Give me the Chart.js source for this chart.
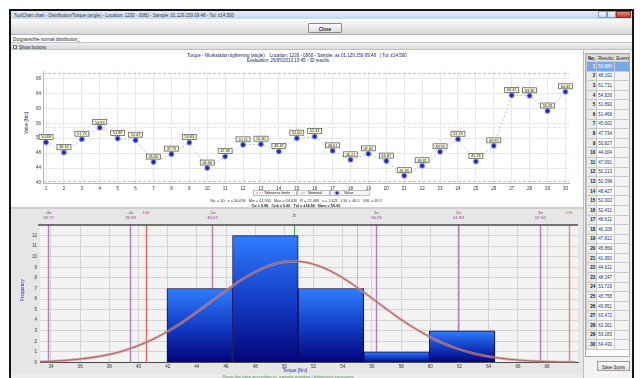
<!DOCTYPE html>
<html>
<head>
<meta charset="utf-8">
<title>Torque distribution</title>
<script src="https://cdn.jsdelivr.net/npm/chart.js@4.4.1/dist/chart.umd.min.js"></script>
<style>
  html, body { margin:0; padding:0; width:642px; height:378px; overflow:hidden; background:#fff;
               font-family:"Liberation Sans", Arial, sans-serif; }
  .abs { position:absolute; box-sizing:border-box; }
  .tiny { font-size:4.5px; line-height:5px; white-space:nowrap; }
  #frame { left:9px; top:9px; width:625px; height:380px; border:2px solid #151515; background:#efefef; }
  #titlebar { left:11px; top:11px; width:621px; height:8px; background:linear-gradient(#e2ecf8,#c3d7ee); }
  #titletext { left:14px; top:12.5px; color:#333; }
  .wbtn { top:11px; height:7px; border:1px solid #8a9bb3; background:linear-gradient(#f2f6fb,#cfdbea); }
  #toolbar { left:11px; top:19px; width:621px; height:16px; background:linear-gradient(#fbfbfb,#d9d9d9); border-bottom:1px solid #b3b3b3; }
  #closeBtn { left:308px; top:23px; width:34px; height:10px; border:1px solid #8a8a8a; border-radius:1px;
              background:linear-gradient(#fdfdfd,#dedede); text-align:center; font-weight:bold; padding-top:2.5px; color:#222; }
  #pathRow { left:11px; top:35px; width:621px; height:8px; background:#fff; border-bottom:1px solid #c6c6c6; }
  #pathText { left:13px; top:37px; color:#222; }
  #settingsRow { left:11px; top:43px; width:621px; height:7px; background:linear-gradient(#ededed,#dcdcdc); border-bottom:1px solid #c0c0c0; }
  #chk { left:13px; top:44.5px; width:4px; height:4px; border:1px solid #5a8a5a; background:#e6f4e6; }
  #chkText { left:19px; top:44.5px; color:#222; }
  #runPanel { left:11px; top:50px; width:572px; height:158px; background:#fff; }
  #sep { left:11px; top:207px; width:572px; height:2px; background:#cfcfcf; }
  #histPanel { left:11px; top:209px; width:572px; height:165px; background:#e6e6e6; }
  #status { left:11px; top:374px; width:621px; height:4px; background:#ececec; }
  #statusText { left:222px; top:374.5px; color:#3aa43a; }
  #sidePanel { left:583px; top:50px; width:49px; height:328px; background:#f2f2f2; border-left:1px solid #bdbdbd; }
  #tableBox { left:585px; top:53px; width:45px; height:304px; background:#fff; border:1px solid #a9a9a9; overflow:hidden; }
  #saveBtn { left:597px; top:361px; width:33px; height:10px; border:1px solid #9a9a9a; background:linear-gradient(#fafafa,#e0e0e0);
             text-align:center; padding-top:2.5px; color:#222; }
  table { border-collapse:collapse; font-size:4.5px; line-height:5px; }
  td { border:1px solid #c9c9c9; height:8.6px; padding:0 1px; white-space:nowrap; }
  td.no { width:6px; background:#e9e9e9; text-align:right; color:#111; font-weight:bold; }
  td.res { width:15px; color:#1a2a6a; }
  td.ev { width:13px; background:#f4f4f4; }
  tr.hdr td { background:#e1e1e1; color:#111; height:6px; }
  tr.sel td { background:#7aa6e4; color:#fff; }
  canvas { position:absolute; }
</style>
</head>
<body>
<div class="abs" id="frame"></div>
<div class="abs" id="titlebar"></div>
<div class="abs tiny" id="titletext">ToolChart chart - Distribution/Torque (angle) - Location: 1230 - 0060 - Sample: 01.129.159 09:48 - Tol: ±14.500</div>
<div class="abs wbtn" style="left:598px;width:9px;"></div>
<div class="abs wbtn" style="left:607px;width:9px;"></div>
<div class="abs wbtn" style="left:616px;width:15px;background:linear-gradient(#e58a80,#c43b2e);border-color:#8e2a20;"></div>
<div class="abs" id="toolbar"></div>
<div class="abs tiny" id="closeBtn">Close</div>
<div class="abs" id="pathRow"></div>
<div class="abs tiny" id="pathText">Do/gravis/the normal distribution_</div>
<div class="abs" id="settingsRow"></div>
<div class="abs" id="chk"></div>
<div class="abs tiny" id="chkText">Show buttons</div>
<div class="abs" id="runPanel"></div>
<div class="abs" id="sep"></div>
<div class="abs" id="histPanel"></div>
<div class="abs" id="status"></div>
<div class="abs tiny" id="statusText">Show the data according to: sample number / tightening sequence</div>
<div class="abs" id="sidePanel"></div>
<div class="abs" id="tableBox"><table id="resultTable"></table></div>
<div class="abs tiny" id="saveBtn">Save Sums</div>

<canvas id="runChart" width="564" height="157" style="left:18px;top:50px;"></canvas>
<canvas id="histChart" width="564" height="166" style="left:18px;top:208px;"></canvas>

<script>
// Tightening results, one value per sample (Nm)
const sampleNo = [1,2,3,4,5,6,7,8,9,10,11,12,13,14,15,16,17,18,19,20,21,22,23,24,25,26,27,28,29,30];
const torque = [50.884, 48.162, 51.731, 54.826, 51.893, 51.468, 45.602, 47.734, 50.827, 44.004,
                47.091, 50.213, 50.398, 48.427, 52.003, 52.431, 48.612, 46.208, 47.812, 45.869,
                41.950, 44.612, 48.347, 51.729, 45.758, 49.951, 63.472, 63.361, 59.283, 64.430];

// Specification
const nominal = 55.0;
const lowerLimit = 40.5;
const upperLimit = 69.5;

// Run chart value axis ticks
const valueTicks = [40,42,44,46,48,50,52,54,56,58,60,62,64,66,68,70];

// Histogram classes
const binEdges = [41.950, 46.446, 50.942, 55.438, 59.934, 64.430];
const binCounts = [7, 12, 7, 1, 3];
const countTicks = [0,1,2,3,4,5,6,7,8,9,10,11,12];
const torqueTicks = [34,36,38,40,42,44,46,48,50,52,54,56,58,60,62,64,66,68];

// Fitted normal curve (expected frequency per class)
const curveX = [33,34,35,36,37,38,39,40,41,42,43,44,45,46,47,48,49,50,51,52,
                53,54,55,56,57,58,59,60,61,62,63,64,65,66,67,68,69,70];
const curveY = [0.07,0.12,0.20,0.32,0.51,0.76,1.12,1.60,2.20,2.94,3.80,4.76,5.79,6.81,7.76,8.57,9.17,9.51,9.55,9.29,
                8.76,8.00,7.08,6.07,5.05,4.06,3.17,2.39,1.75,1.24,0.85,0.57,0.37,0.23,0.14,0.08,0.05,0.03];

// Summary statistics shown in the labels
const n = torque.length;
const mean = torque.reduce((a, b) => a + b, 0) / n;
const sd = Math.sqrt(torque.reduce((a, b) => a + (b - mean) * (b - mean), 0) / (n - 1));
const tMin = Math.min(...torque), tMax = Math.max(...torque);
const cp = (upperLimit - lowerLimit) / (6 * sd);
const cpk = Math.min(upperLimit - mean, mean - lowerLimit) / (3 * sd);

// Results table
(function buildTable() {
  const t = document.getElementById('resultTable');
  let html = '<tr class="hdr"><td class="no">No.</td><td class="res">Results</td><td class="ev">Events</td></tr>';
  sampleNo.forEach((s, i) => {
    html += '<tr' + (i === 0 ? ' class="sel"' : '') + '><td class="no">' + s + '</td><td class="res">' +
            torque[i].toFixed(3) + '</td><td class="ev"></td></tr>';
  });
  t.innerHTML = html;
})();

const FONT = '"Liberation Sans", Arial, sans-serif';

// ---------- Run chart ----------
const runDecor = {
  id: 'runDecor',
  beforeDatasetsDraw(chart) {
    const { ctx, chartArea: a, scales: { y } } = chart;
    ctx.save();
    ctx.lineWidth = 1;
    ctx.setLineDash([3, 2]);
    ctx.strokeStyle = '#efaaaa';
    [lowerLimit, upperLimit].forEach(v => {
      const py = Math.round(y.getPixelForValue(v)) + 0.5;
      ctx.beginPath(); ctx.moveTo(a.left, py); ctx.lineTo(a.right, py); ctx.stroke();
    });
    ctx.strokeStyle = '#d8ecd8';
    const ny = Math.round(y.getPixelForValue(nominal)) + 0.5;
    ctx.beginPath(); ctx.moveTo(a.left, ny); ctx.lineTo(a.right, ny); ctx.stroke();
    ctx.restore();
  },
  afterDatasetsDraw(chart) {
    const ctx = chart.ctx, meta = chart.getDatasetMeta(0);
    ctx.save();
    ctx.font = '3.8px ' + FONT;
    ctx.textAlign = 'center'; ctx.textBaseline = 'middle';
    meta.data.forEach((pt, i) => {
      const w = 14, h = 5, cx = pt.x, cy = pt.y - 5.5;
      ctx.fillStyle = '#fbf8d8';
      ctx.fillRect(cx - w / 2, cy - h / 2, w, h);
      ctx.strokeStyle = '#505050'; ctx.lineWidth = 0.7;
      ctx.strokeRect(cx - w / 2, cy - h / 2, w, h);
      ctx.fillStyle = '#222';
      ctx.fillText(torque[i].toFixed(2), cx, cy + 0.3);
    });
    ctx.restore();
  },
  afterDraw(chart) {
    const ctx = chart.ctx;
    ctx.save();
    ctx.textBaseline = 'middle';
    // heading
    ctx.fillStyle = '#1c2466';
    ctx.font = '4.5px ' + FONT;
    ctx.textAlign = 'center';
    ctx.fillText('Torque - Workstation tightening (angle)    Location: 1230 - 0060 - Sample: as 01.129.159 09:48   | Tol: ±14.500', 279, 5.8);
    ctx.fillText('Evaluation: 29/05/2013 13:45 - 30 results', 270, 10.8);
    // axis title
    ctx.save();
    ctx.translate(9, 73); ctx.rotate(-Math.PI / 2);
    ctx.fillStyle = '#3a3a8a'; ctx.font = '4.5px ' + FONT;
    ctx.fillText('Value [Nm]', 0, 0);
    ctx.restore();
    // legend
    const cells = [
      { x: 235, w: 44, label: 'Tolerance limits', kind: 'tol' },
      { x: 279, w: 33, label: 'Nominal', kind: 'nom' },
      { x: 312, w: 40, label: 'Value', kind: 'val' }
    ];
    cells.forEach(c => {
      ctx.fillStyle = '#f6f6f6';
      ctx.fillRect(c.x, 140, c.w, 6);
      ctx.strokeStyle = '#9a9a9a'; ctx.lineWidth = 0.6; ctx.setLineDash([]);
      ctx.strokeRect(c.x + 0.5, 140.5, c.w - 1, 5);
      if (c.kind === 'tol') {
        ctx.strokeStyle = '#e07070'; ctx.setLineDash([2, 1]);
        ctx.beginPath(); ctx.moveTo(c.x + 3, 143); ctx.lineTo(c.x + 10, 143); ctx.stroke();
        ctx.setLineDash([]);
      } else if (c.kind === 'nom') {
        ctx.strokeStyle = '#8fcf8f';
        ctx.beginPath(); ctx.moveTo(c.x + 3, 143); ctx.lineTo(c.x + 8, 143); ctx.stroke();
      } else {
        ctx.strokeStyle = '#9fb0ea';
        ctx.beginPath(); ctx.moveTo(c.x + 3, 143); ctx.lineTo(c.x + 11, 143); ctx.stroke();
        ctx.fillStyle = '#2626b0';
        ctx.fillRect(c.x + 5.5, 141.5, 3, 3);
      }
      ctx.fillStyle = '#222'; ctx.font = '3.8px ' + FONT; ctx.textAlign = 'left';
      ctx.fillText(c.label, c.x + (c.kind === 'val' ? 14 : 11), 143.2);
    });
    // statistics
    ctx.textAlign = 'center'; ctx.fillStyle = '#333'; ctx.font = '3.8px ' + FONT;
    ctx.fillText('No. = ' + n + '   x̄ = ' + mean.toFixed(3) + '   Min = ' + tMin.toFixed(3) + '   Max = ' + tMax.toFixed(3) +
                 '   R = ' + (tMax - tMin).toFixed(3) + '   s = ' + sd.toFixed(3) + '   LSL = ' + lowerLimit.toFixed(1) +
                 '   USL = ' + upperLimit.toFixed(1), 278, 151);
    ctx.font = 'bold 3.8px ' + FONT; ctx.fillStyle = '#222';
    ctx.fillText('Cp = ' + cp.toFixed(2) + '   Cpk = ' + cpk.toFixed(2) + '   Tol = ±' + ((upperLimit - lowerLimit) / 2).toFixed(2) +
                 '   Nom = ' + nominal.toFixed(2), 278, 155.6);
    ctx.restore();
  }
};

new Chart(document.getElementById('runChart'), {
  type: 'line',
  data: {
    datasets: [{
      data: sampleNo.map((s, i) => ({ x: s, y: torque[i] })),
      borderColor: '#b3c0ee',
      borderWidth: 1,
      borderDash: [2, 2],
      pointRadius: 2.3,
      pointBackgroundColor: '#2424b4',
      pointBorderColor: 'rgba(96,116,232,0.55)',
      pointBorderWidth: 1.4,
      tension: 0
    }]
  },
  options: {
    responsive: false,
    animation: false,
    devicePixelRatio: 1,
    layout: { padding: { left: 0, right: 13, top: 21, bottom: 0 } },
    plugins: { legend: { display: false }, tooltip: { enabled: false } },
    scales: {
      x: {
        type: 'linear', min: 0.83, max: 30.2,
        afterBuildTicks: s => { s.ticks = sampleNo.map(v => ({ value: v })); },
        afterFit: s => { s.height = 24; },
        grid: { color: '#e8e8e8', drawTicks: false },
        border: { color: '#b5b5b5' },
        ticks: { font: { size: 4.5, family: FONT }, color: '#333', padding: 3, maxRotation: 0, autoSkip: false }
      },
      y: {
        min: 40, max: 70,
        afterBuildTicks: s => { s.ticks = valueTicks.map(v => ({ value: v })); },
        afterFit: s => { s.width = 25; },
        grid: { color: '#e8e8e8', drawTicks: false },
        border: { color: '#b5b5b5' },
        ticks: { font: { size: 4.5, family: FONT }, color: '#333', padding: 2 }
      }
    }
  },
  plugins: [runDecor]
});

// ---------- Histogram ----------
const histDecor = {
  id: 'histDecor',
  beforeDraw(chart) {
    const { ctx, chartArea: a } = chart;
    ctx.save();
    ctx.fillStyle = '#f3f3f3';
    ctx.fillRect(a.left, a.top, a.right - a.left, a.bottom - a.top);
    ctx.restore();
  },
  beforeDatasetsDraw(chart) {
    const { ctx, chartArea: a, scales: { x } } = chart;
    ctx.save();
    const vline = (v, color, w) => {
      const px = Math.round(x.getPixelForValue(v)) + 0.5;
      ctx.strokeStyle = color; ctx.lineWidth = w;
      ctx.beginPath(); ctx.moveTo(px, a.top); ctx.lineTo(px, a.bottom); ctx.stroke();
      return px;
    };
    ctx.textAlign = 'center'; ctx.textBaseline = 'middle';
    // sigma lines
    [-3, -2, -1, 1, 2, 3].forEach(k => {
      const v = mean + k * sd;
      const px = vline(v, 'rgba(196,136,200,0.45)', 2);
      vline(v, '#a0609f', 0.7);
      ctx.fillStyle = '#8a3a8e';
      ctx.font = '4.2px ' + FONT;
      ctx.fillText((k > 0 ? '' : '-') + Math.abs(k) + 'σ', px, 5);
      ctx.fillText(v.toFixed(2), px, 10);
    });
    // specification limits
    [[lowerLimit, 'LSL', '#d83a3a'], [upperLimit, 'USL', '#e07a3a']].forEach(([v, lab, col]) => {
      const px = vline(v, 'rgba(232,120,120,0.4)', 2);
      vline(v, col, 0.7);
      ctx.fillStyle = col; ctx.font = '4.2px ' + FONT;
      ctx.fillText(lab, px, 5);
    });
    // nominal and mean
    vline(nominal, '#7ccc7c', 0.7);
    const mx = vline(mean, '#2ea82e', 0.9);
    ctx.fillStyle = '#2a9a2a'; ctx.font = 'bold 5px ' + FONT;
    ctx.fillText('x̄', mx, 8);
    ctx.restore();
  },
  afterDraw(chart) {
    const { ctx, chartArea: a } = chart;
    ctx.save();
    // upper axis line
    ctx.strokeStyle = '#4a4a4a'; ctx.lineWidth = 1.5;
    ctx.beginPath(); ctx.moveTo(a.left - 2, a.top); ctx.lineTo(a.right, a.top); ctx.stroke();
    // axis titles
    ctx.fillStyle = '#2a2ac0'; ctx.font = '4.5px ' + FONT;
    ctx.textAlign = 'center'; ctx.textBaseline = 'middle';
    ctx.fillText('Torque [Nm]', 277, 163);
    ctx.translate(5, 82); ctx.rotate(-Math.PI / 2);
    ctx.fillText('Frequency', 0, 0);
    ctx.restore();
  }
};

const barGradient = c => {
  const ch = c.chart, ys = ch.scales && ch.scales.y;
  if (!ys || !ch.chartArea || c.type !== 'data') return '#1846c8';
  const top = ys.getPixelForValue(c.raw.y), base = ys.getPixelForValue(0);
  const g = ch.ctx.createLinearGradient(0, top, 0, base);
  g.addColorStop(0, '#2f7dff');
  g.addColorStop(0.55, '#1238c0');
  g.addColorStop(1, '#04047a');
  return g;
};

new Chart(document.getElementById('histChart'), {
  type: 'bar',
  data: {
    datasets: [
      {
        type: 'line', order: 0, xAxisID: 'x', yAxisID: 'y',
        data: curveX.map((v, i) => ({ x: v, y: curveY[i] })),
        borderColor: '#94504e', borderWidth: 0.8, pointRadius: 0,
        cubicInterpolationMode: 'monotone'
      },
      {
        type: 'line', order: 1, xAxisID: 'x', yAxisID: 'y',
        data: curveX.map((v, i) => ({ x: v, y: curveY[i] })),
        borderColor: 'rgba(214,150,148,0.75)', borderWidth: 2.6, pointRadius: 0,
        cubicInterpolationMode: 'monotone'
      },
      {
        type: 'bar', order: 2, xAxisID: 'xb', yAxisID: 'y',
        data: binCounts.map((c, i) => ({ x: (binEdges[i] + binEdges[i + 1]) / 2, y: c })),
        backgroundColor: barGradient,
        borderColor: '#0b0b5c',
        borderWidth: 1,
        grouped: false,
        barPercentage: 1,
        categoryPercentage: 1
      }
    ]
  },
  options: {
    responsive: false,
    animation: false,
    devicePixelRatio: 1,
    layout: { padding: { left: 0, right: 4, top: 17, bottom: 0 } },
    plugins: { legend: { display: false }, tooltip: { enabled: false } },
    scales: {
      x: {
        type: 'linear', min: 33.25, max: 70.12, offset: false,
        afterBuildTicks: s => { s.ticks = torqueTicks.map(v => ({ value: v })); },
        afterFit: s => { s.height = 11.5; },
        grid: { color: '#d4d4d4', drawTicks: false, offset: false },
        border: { color: '#4a4a4a', width: 1 },
        ticks: { font: { size: 4.5, family: FONT }, color: '#333', padding: 2, maxRotation: 0, autoSkip: false }
      },
      xb: {
        type: 'linear', min: 33.25, max: 70.12, offset: false, display: false,
        grid: { offset: false },
        afterBuildTicks: s => { s.ticks = binEdges.map(v => ({ value: v })); }
      },
      y: {
        min: 0, max: 13,
        afterBuildTicks: s => { s.ticks = countTicks.map(v => ({ value: v })); },
        afterFit: s => { s.width = 22; },
        grid: { color: '#d4d4d4', drawTicks: false },
        border: { display: false },
        ticks: { font: { size: 4.5, family: FONT }, color: '#333', padding: 3 }
      }
    }
  },
  plugins: [histDecor]
});
</script>
</body>
</html>
